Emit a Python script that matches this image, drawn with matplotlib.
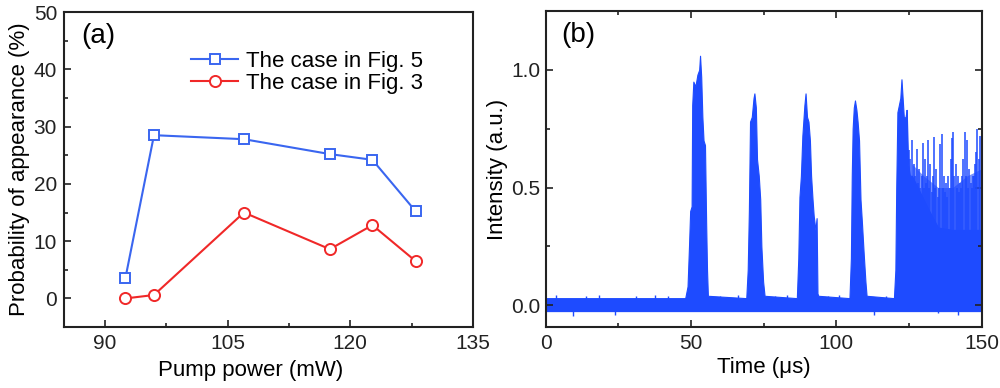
import matplotlib
matplotlib.use("Agg")
import matplotlib.pyplot as plt
from matplotlib.ticker import MultipleLocator

plt.rcParams['font.family'] = ['Liberation Sans', 'DejaVu Sans']

# ---- panel (a) data ----
pump_fig5 = [92.5, 96.0, 107.0, 117.5, 122.7, 128.0]
prob_fig5 = [3.5, 28.5, 27.8, 25.2, 24.2, 15.2]
pump_fig3 = [92.5, 96.0, 107.0, 117.5, 122.7, 128.0]
prob_fig3 = [0.0, 0.6, 15.0, 8.6, 12.8, 6.5]

# ---- panel (b) data: upper envelope of the dense oscilloscope trace ----
env_t = [0, 48.0, 48.8, 49.3, 49.7, 50.2, 50.4, 50.8, 51.5, 52.2, 52.8, 53.1,
         53.5, 53.9, 54.3, 54.8, 55.2, 55.5, 55.8,
         69.0, 69.5, 69.9, 70.3, 70.9, 71.5, 71.8, 72.3, 72.7, 73.3, 73.8, 74.2, 74.8, 75.3,
         86.4, 86.9, 87.3, 87.8, 88.3, 89.0, 89.4, 89.9, 90.4, 90.9, 91.3, 91.8, 92.2, 92.8, 93.2, 93.5, 93.8,
         104.5, 105.0, 105.3, 105.6, 106.0, 106.4, 106.9, 107.3, 107.8, 108.3, 108.8, 109.4, 110.0, 110.4,
         119.8, 120.3, 120.6, 121.0, 121.5, 122.0, 122.4, 122.8, 123.3, 123.8, 124.2, 124.7, 125.3,
         126.0, 128.0, 130.0, 132.0, 135.0, 140.0, 150.0]
env_top = [0.03, 0.03, 0.08, 0.25, 0.40, 0.42, 0.85, 0.95, 0.93, 0.98, 1.0, 1.06,
           0.97, 0.80, 0.70, 0.68, 0.35, 0.15, 0.04,
           0.03, 0.15, 0.40, 0.78, 0.80, 0.88, 0.90, 0.84, 0.62, 0.55, 0.45, 0.25, 0.10, 0.04,
           0.03, 0.20, 0.46, 0.55, 0.72, 0.85, 0.90, 0.80, 0.78, 0.70, 0.55, 0.45, 0.38, 0.32, 0.37, 0.05, 0.04,
           0.03, 0.20, 0.55, 0.75, 0.84, 0.87, 0.83, 0.78, 0.70, 0.45, 0.35, 0.22, 0.10, 0.04,
           0.03, 0.15, 0.50, 0.82, 0.85, 0.88, 0.96, 0.88, 0.78, 0.80, 0.83, 0.60, 0.55,
           0.55, 0.50, 0.45, 0.40, 0.33, 0.32, 0.32]
baseline_low = -0.025
# small noise glitches on the baseline (time, value)
glitch_t = [3.5, 9.5, 14.0, 18.5, 24.0, 31.0, 37.5, 42.0, 60.0, 66.0, 79.0, 83.0, 97.0, 101.0, 113.0, 117.0, 135.0, 142.0]
glitch_v = [0.045, -0.045, 0.04, 0.045, -0.04, 0.04, 0.045, 0.04, 0.04, 0.045, 0.04, 0.045, 0.04, 0.045, -0.04, 0.04, -0.035, -0.04]
# lighter dense stripe zone after the last pulse
stripe_t = [126.0, 130.0, 135.0, 140.0, 145.0, 150.0]
stripe_top = [0.60, 0.55, 0.50, 0.50, 0.55, 0.58]
# individual spikes in the final irregular region
spike_t = [123.6, 124.2, 124.9, 125.5, 126.1, 126.8, 127.2, 127.6, 128.0, 128.4, 128.9, 129.3, 129.7, 130.1,
           130.4, 130.9, 131.2, 131.6, 132.0, 132.3, 132.8, 133.2, 133.6, 134.0, 134.3, 134.8, 135.2,
           135.6, 136.2, 136.6, 137.0, 137.4, 137.8, 138.2, 138.5, 139.0, 139.3, 139.7, 140.2, 140.6,
           141.0, 141.4, 141.8, 142.2, 142.5, 142.9, 143.2, 143.6, 144.2, 144.6, 145.0, 145.4, 145.8,
           146.2, 146.6, 147.0, 147.3, 147.7, 148.0, 148.5, 148.9, 149.5]
spike_h = [0.80, 0.83, 0.66, 0.62, 0.70, 0.60, 0.55, 0.665, 0.52, 0.58, 0.50, 0.55, 0.69, 0.50,
           0.62, 0.52, 0.55, 0.70, 0.50, 0.60, 0.48, 0.55, 0.714, 0.50, 0.58, 0.46, 0.50,
           0.686, 0.728, 0.50, 0.55, 0.48, 0.52, 0.46, 0.55, 0.50, 0.62, 0.71, 0.735, 0.55,
           0.60, 0.50, 0.55, 0.48, 0.52, 0.50, 0.55, 0.62, 0.735, 0.55, 0.70, 0.50, 0.58,
           0.52, 0.50, 0.55, 0.55, 0.60, 0.65, 0.75, 0.62, 0.72]

blue_a = '#3A66F0'
red_a = '#F02828'
trace_c = '#1E4BFF'

fig = plt.figure(figsize=(10, 3.88), dpi=100)

# ---------- panel (a) ----------
ax1 = fig.add_axes([0.064, 0.157, 0.409, 0.812])
ax1.plot(pump_fig5, prob_fig5, '-s', color=blue_a, lw=1.5, ms=7.5, mfc='white', mec=blue_a, mew=1.4,
         label='The case in Fig. 5')
ax1.plot(pump_fig3, prob_fig3, '-o', color=red_a, lw=1.5, ms=8, mfc='white', mec=red_a, mew=1.4,
         label='The case in Fig. 3')
ax1.set_xlim(85, 135)
ax1.set_ylim(-5, 50)
ax1.xaxis.set_major_locator(MultipleLocator(15))
ax1.xaxis.set_minor_locator(MultipleLocator(7.5))
ax1.yaxis.set_major_locator(MultipleLocator(10))
ax1.yaxis.set_minor_locator(MultipleLocator(5))
ax1.set_xlabel('Pump power (mW)', fontsize=16, labelpad=3)
ax1.xaxis.set_label_coords(0.456, -0.105)
ax1.set_ylabel('Probability of appearance (%)', fontsize=16, labelpad=3)
ax1.text(0.043, 0.925, '(a)', transform=ax1.transAxes, fontsize=20, va='center', ha='left')
leg = ax1.legend(loc='upper left', bbox_to_anchor=(0.29, 0.905), frameon=False, fontsize=16,
                 handlelength=2.1, handletextpad=0.35, labelspacing=0.05, borderaxespad=0)

# ---------- panel (b) ----------
ax2 = fig.add_axes([0.5457, 0.157, 0.436, 0.814])
ax2.fill_between(env_t, baseline_low, env_top, color=trace_c, lw=0.8, edgecolor=trace_c)
ax2.vlines(glitch_t, 0.0, glitch_v, color=trace_c, lw=1.0)
ax2.fill_between(stripe_t, 0.3, stripe_top, color=trace_c, lw=0, alpha=0.6)
ax2.vlines(spike_t, 0.3, spike_h, color=trace_c, lw=1.1)
ax2.set_xlim(0, 150)
ax2.set_ylim(-0.093, 1.249)
ax2.xaxis.set_major_locator(MultipleLocator(50))
ax2.xaxis.set_minor_locator(MultipleLocator(25))
ax2.yaxis.set_major_locator(MultipleLocator(0.5))
ax2.yaxis.set_minor_locator(MultipleLocator(0.25))
ax2.set_xlabel('Time (\u03bcs)', fontsize=16, labelpad=3)
ax2.set_ylabel('Intensity (a.u.)', fontsize=16, labelpad=2)
ax2.text(0.035, 0.925, '(b)', transform=ax2.transAxes, fontsize=20, va='center', ha='left')

for ax in (ax1, ax2):
    for s in ax.spines.values():
        s.set_linewidth(1.5)
        s.set_color('#222222')
    ax.tick_params(which='both', direction='in', labelsize=15, width=1.2, colors='#222222')
    ax.tick_params(which='major', length=5, pad=5)
    ax.tick_params(which='minor', length=3)
ax2.tick_params(which='both', top=True, right=True)
ax2.tick_params(axis='y', which='major', pad=4)

fig.savefig('out.png', dpi=100)
